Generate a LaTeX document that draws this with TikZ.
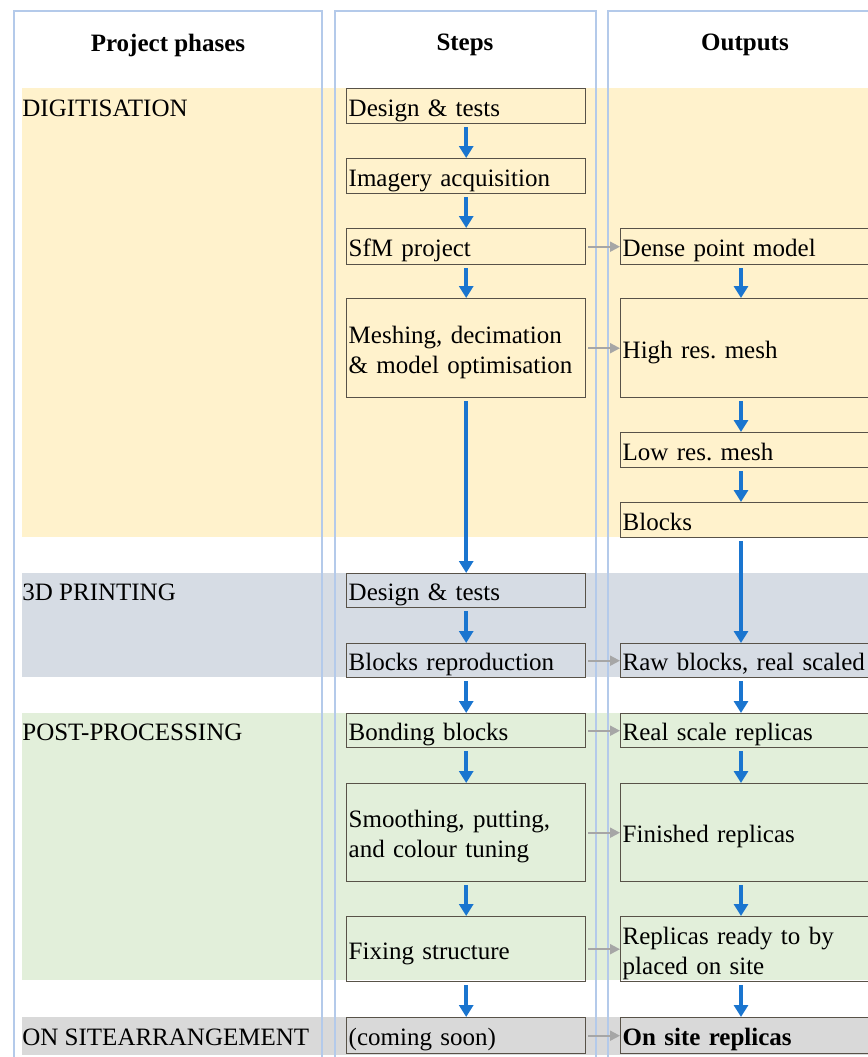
\documentclass[tikz,border=0pt]{standalone}
\usepackage{fontspec}
\setmainfont{Liberation Serif}
\usepackage{tikz}
\usetikzlibrary{arrows.meta}
\usetikzlibrary{positioning}
\frenchspacing
\definecolor{framecol}{RGB}{180,202,234}
\definecolor{digicol}{RGB}{255,242,204}
\definecolor{printcol}{RGB}{214,220,228}
\definecolor{postcol}{RGB}{226,239,218}
\definecolor{sitecol}{RGB}{217,217,217}
\definecolor{flowblue}{RGB}{26,117,207}
\definecolor{linkgrey}{RGB}{166,166,166}
\definecolor{boxline}{RGB}{88,82,72}
\tikzset{
step box/.style = { rectangle, draw = boxline, line width = 0.7pt, anchor = north west, inner sep = 1pt, text width = 117.5pt, minimum width = 119.5pt, align = left },
output box/.style = { rectangle, draw = boxline, line width = 0.7pt, anchor = north west, inner sep = 1pt, text width = 130pt, minimum width = 132pt, align = left },
% box height in pt, baseline put a little below the middle
one line/.code = { \pgfmathsetmacro\boxht{#1/2+4}\pgfmathsetmacro\boxdp{#1/2-6}
                   \edef\boxopts{\noexpand\tikzset{minimum height=#1pt, text height=\boxht pt, text depth=\boxdp pt}}\boxopts },
two lines/.code = { \pgfmathsetmacro\boxht{#1/2-3.5}\pgfmathsetmacro\boxdp{#1/2+1.5}
                   \edef\boxopts{\noexpand\tikzset{minimum height=#1pt, text height=\boxht pt, text depth=\boxdp pt}}\boxopts },
phase label/.style = { anchor = west, inner sep = 1pt },
column head/.style = { font = \bfseries },
column frame/.style = { draw = framecol, line width = 1pt },
}
\tikzset{
stepflow/.style = { draw = flowblue, line width = 2pt, -{Triangle[width=7pt, length=6pt]}, shorten <= 1.5pt },
linkflow/.style = { draw = linkgrey, line width = 1pt, -{Triangle[width=5pt, length=5pt]}, shorten <= 1pt },
}
\begin{document}
\begin{tikzpicture}[x=0.5pt, y=-0.5pt]
  \useasboundingbox (0,0) rectangle (868,1057);
  \fontsize{12.5}{15}\selectfont
    % phase bands
    \fill[digicol] (22,88) rectangle (868,537);
    \fill[printcol] (22,573) rectangle (868,677);
    \fill[postcol] (22,713) rectangle (868,980);
    \fill[sitecol] (22,1017) rectangle (868,1055);
    % column frames
    \draw[column frame] (14,1060) |- (322,11) -- (322,1060);
    \draw[column frame] (335,1060) |- (596,11) -- (596,1060);
    \draw[column frame] (608,1060) |- (880,11);
    \begin{scope}[every node/.style={column head}]
      \node (hphase) at (168,45) {Project phases};
      \node (hstep) at (465,45) {Steps};
      \node (hout) at (745,45) {Outputs};
    \end{scope}
    \node[phase label] (digit) at (20,108) {DIGITISATION};
    \node[phase label] (print) at (20,592.5) {3D PRINTING};
    \node[phase label] (post) at (20,732.5) {POST-PROCESSING};
    \node[phase label] (site) at (20,1037) {ON SITEARRANGEMENT};
    \node[step box, one line=17.5] (design) at (346,88) {Design \& tests};
    \node[step box, one line=17.5] (imagery) at (346,158) {Imagery acquisition};
    \node[step box, one line=18] (sfm) at (346,228) {SfM project};
    \node[step box, two lines=49.5] (meshing) at (346,298) {Meshing, decimation\\\& model optimisation};
    \node[step box, one line=17] (pdesign) at (346,573) {Design \& tests};
    \node[step box, one line=17] (repro) at (346,643) {Blocks reproduction};
    \node[step box, one line=17] (bonding) at (346,713) {Bonding blocks};
    \node[step box, two lines=49] (smoothing) at (346,783) {Smoothing, putting,\\and colour tuning};
    \node[step box, one line=32.5] (fixing) at (346,916) {Fixing structure};
    \node[step box, one line=18] (soon) at (346,1017) {(coming soon)};
    \node[output box, one line=18] (dense) at (620,228) {Dense point model};
    \node[output box, one line=49.5] (highres) at (620,298) {High res. mesh};
    \node[output box, one line=17.5] (lowres) at (620,432) {Low res. mesh};
    \node[output box, one line=17.5] (blocks) at (620,502) {Blocks};
    \node[output box, one line=17] (raw) at (620,643) {Raw blocks, real scaled};
    \node[output box, one line=17] (realscale) at (620,713) {Real scale replicas};
    \node[output box, one line=49] (finished) at (620,783) {Finished replicas};
    \node[output box, two lines=32.5] (ready) at (620,916) {Replicas ready to by\\placed on site};
    \node[output box, one line=18] (onsite) at (620,1017) {\textbf{On site replicas}};
    \coordinate (outx) at (741,0);
    \begin{scope}[every path/.style={stepflow}]
      \draw (design.south) -- (imagery.north);
      \draw (imagery.south) -- (sfm.north);
      \draw (sfm.south) -- (meshing.north);
      \draw (meshing.south) -- (pdesign.north);
      \draw (pdesign.south) -- (repro.north);
      \draw (repro.south) -- (bonding.north);
      \draw (bonding.south) -- (smoothing.north);
      \draw (smoothing.south) -- (fixing.north);
      \draw (fixing.south) -- (soon.north);
      \draw (dense.south -| outx) -- (highres.north -| outx);
      \draw (highres.south -| outx) -- (lowres.north -| outx);
      \draw (lowres.south -| outx) -- (blocks.north -| outx);
      \draw (blocks.south -| outx) -- (raw.north -| outx);
      \draw (raw.south -| outx) -- (realscale.north -| outx);
      \draw (realscale.south -| outx) -- (finished.north -| outx);
      \draw (finished.south -| outx) -- (ready.north -| outx);
      \draw (ready.south -| outx) -- (onsite.north -| outx);
    \end{scope}
    \begin{scope}[every path/.style={linkflow}]
      \draw (sfm.east) -- (dense.west);
      \draw (meshing.east) -- (highres.west);
      \draw (repro.east) -- (raw.west);
      \draw (bonding.east) -- (realscale.west);
      \draw (smoothing.east) -- (finished.west);
      \draw (fixing.east) -- (ready.west);
      \draw (soon.east) -- (onsite.west);
    \end{scope}
  \end{tikzpicture}
\end{document}
